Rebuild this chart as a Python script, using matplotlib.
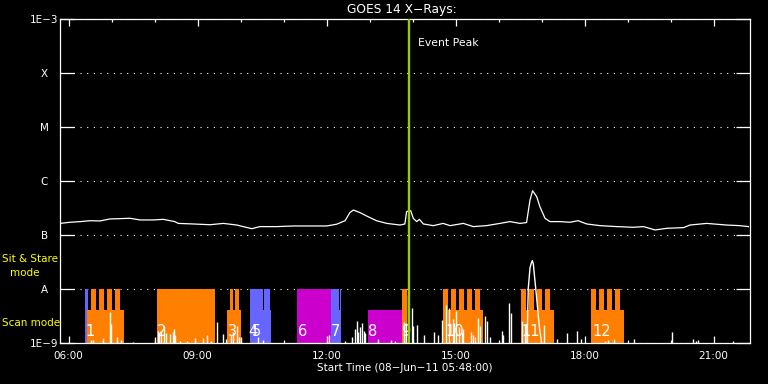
# -*- coding: utf-8 -*-
"""GOES 14 X-Rays, 08-Jun-11: light curve with observing-mode bars."""
import matplotlib
matplotlib.use("Agg")
import matplotlib.pyplot as plt
from matplotlib.ticker import NullLocator

# ---- data (hours after 00:00 on 08-Jun-11) ----
goes_t = [5.80, 6.03, 6.27, 6.50, 6.73, 6.96, 7.20, 7.43, 7.66, 7.97, 8.20, 8.47,
          8.55, 8.90, 9.29, 9.60, 9.91, 10.26, 10.45, 10.84, 11.23, 11.61, 12.00,
          12.23, 12.43, 12.54, 12.62, 12.78, 12.93, 13.16, 13.40, 13.71, 13.82,
          13.86, 13.88, 13.955, 14.017, 14.095, 14.157, 14.25, 14.48, 14.71, 14.87,
          15.18, 15.41, 15.72, 16.03, 16.265, 16.50, 16.65, 16.73, 16.79, 16.885,
          16.96, 17.08, 17.195, 17.43, 17.66, 17.85, 18.05, 18.36, 18.75, 19.13,
          19.37, 19.64, 19.91, 20.30, 20.45, 20.84, 21.30, 21.61, 21.81]
goes_v = [1.64e-7, 1.72e-7, 1.77e-7, 1.84e-7, 1.82e-7, 1.98e-7, 2.01e-7, 2.04e-7,
          1.90e-7, 1.90e-7, 1.95e-7, 1.77e-7, 1.64e-7, 1.60e-7, 1.55e-7, 1.64e-7,
          1.53e-7, 1.31e-7, 1.43e-7, 1.43e-7, 1.47e-7, 1.47e-7, 1.47e-7, 1.58e-7,
          1.84e-7, 2.59e-7, 2.90e-7, 2.59e-7, 2.25e-7, 1.84e-7, 1.64e-7, 1.53e-7,
          1.60e-7, 2.70e-7, 2.75e-7, 2.82e-7, 2.03e-7, 1.77e-7, 1.95e-7, 1.60e-7,
          1.49e-7, 1.64e-7, 1.49e-7, 1.64e-7, 1.43e-7, 1.49e-7, 1.64e-7, 1.77e-7,
          1.64e-7, 1.70e-7, 4.45e-7, 6.62e-7, 5.13e-7, 3.35e-7, 2.03e-7, 1.77e-7,
          1.77e-7, 1.72e-7, 1.84e-7, 1.60e-7, 1.49e-7, 1.43e-7, 1.39e-7, 1.43e-7,
          1.24e-7, 1.33e-7, 1.37e-7, 1.53e-7, 1.64e-7, 1.53e-7, 1.49e-7, 1.43e-7]

# low-level spikes
spike_t = [6.52, 6.56, 6.79, 6.97, 6.99, 7.13, 7.23, 7.50, 8.01, 8.07, 8.10, 8.16,
           8.22, 8.27, 8.36, 8.42, 8.44, 8.47, 8.60, 8.75, 8.93, 9.13, 9.23, 9.30,
           9.46, 9.58, 9.66, 9.78, 9.82, 9.91, 9.96, 10.00, 10.41, 10.53, 12.01,
           12.06, 12.43, 12.60, 12.66, 12.70, 12.74, 12.78, 12.82, 12.86, 12.89,
           13.20, 13.50, 13.58, 13.80, 13.84, 13.885, 13.98, 14.00, 14.11, 14.26,
           14.50, 14.60, 14.68, 14.78, 14.85, 14.93, 14.97, 15.01, 15.09, 15.14,
           15.18, 15.35, 15.40, 15.45, 15.53, 15.57, 15.68, 15.74, 15.80, 16.07,
           16.11, 16.25, 16.29, 16.54, 16.61, 16.65, 17.06, 17.35, 17.60, 17.82,
           17.91, 18.47, 18.55, 18.69, 19.15, 20.04, 20.53, 20.59, 20.64, 21.46]
spike_v = [1.15e-9, 1.15e-9, 1.24e-9, 3.75e-9, 2.25e-9, 1.29e-9, 1.15e-9, 1.04e-9,
           1.29e-9, 1.67e-9, 1.50e-9, 1.70e-9, 2.06e-9, 1.50e-9, 1.47e-9, 1.60e-9,
           1.82e-9, 1.40e-9, 1.10e-9, 1.10e-9, 1.25e-9, 1.24e-9, 1.41e-9, 1.10e-9,
           2.45e-9, 1.47e-9, 1.20e-9, 1.40e-9, 1.60e-9, 2.06e-9, 1.30e-9, 1.30e-9,
           1.29e-9, 1.15e-9, 1.35e-9, 1.40e-9, 1.10e-9, 1.30e-9, 1.80e-9, 2.55e-9,
           1.60e-9, 2.00e-9, 2.30e-9, 1.70e-9, 1.50e-9, 1.20e-9, 1.15e-9, 1.10e-9,
           2.50e-9, 2.30e-9, 7.74e-9, 4.45e-9, 2.06e-9, 2.15e-9, 1.40e-9, 1.60e-9,
           1.40e-9, 2.67e-9, 5.06e-9, 4.45e-9, 2.80e-9, 2.30e-9, 3.91e-9, 2.00e-9,
           1.60e-9, 1.80e-9, 1.60e-9, 1.40e-9, 1.30e-9, 2.90e-9, 2.06e-9, 3.16e-9,
           2.60e-9, 1.30e-9, 1.67e-9, 1.40e-9, 5.51e-9, 3.60e-9, 2.55e-9, 2.20e-9,
           1.80e-9, 2.20e-9, 1.20e-9, 1.50e-9, 1.67e-9, 1.20e-9, 1.10e-9, 1.15e-9,
           1.20e-9, 1.20e-9, 1.60e-9, 1.20e-9, 1.10e-9, 1.15e-9, 1.10e-9]

# low-level flare bump near 16:47
bump_t = [16.66, 16.69, 16.73, 16.76, 16.785, 16.81, 16.82, 16.87, 16.92, 16.96, 17.00]
bump_v = [1.0e-9, 10.4e-9, 24.5e-9, 30.3e-9, 33.5e-9, 28.2e-9, 22.8e-9, 9.0e-9,
          3.35e-9, 1.64e-9, 1.0e-9]

# observing-mode blocks: start, end, top level, colour
ORANGE, BLUE, MAGENTA = "#FF8000", "#6666FF", "#CC00CC"
A_LEV, SCAN_LEV = 1e-8, 4.1e-9
blk_start = [6.381, 6.428, 8.056, 9.684, 10.219, 10.525, 10.552, 10.676, 11.312,
             12.102, 12.288, 12.312, 12.963, 13.753, 14.707, 16.521, 18.149]
blk_end = [6.443, 7.288, 9.405, 10.009, 10.525, 10.552, 10.676, 10.699, 12.102,
           12.288, 12.312, 12.335, 13.753, 13.860, 15.637, 17.281, 18.916]
blk_top = [A_LEV, SCAN_LEV, A_LEV, SCAN_LEV, A_LEV, SCAN_LEV, A_LEV, SCAN_LEV, A_LEV,
           A_LEV, SCAN_LEV, A_LEV, SCAN_LEV, A_LEV, SCAN_LEV, SCAN_LEV, SCAN_LEV]
blk_col = [BLUE, ORANGE, ORANGE, ORANGE, BLUE, BLUE, BLUE, BLUE, MAGENTA,
           BLUE, BLUE, BLUE, MAGENTA, ORANGE, ORANGE, ORANGE, ORANGE]

# raster teeth of the scan-mode blocks
tooth_start = [6.521, 6.707, 6.893, 7.079, 9.753, 9.878, 14.707, 14.893, 15.079,
               15.265, 15.451, 16.521, 16.707, 16.893, 17.079, 18.149, 18.335,
               18.521, 18.707]
tooth_w = [0.108, 0.108, 0.108, 0.108, 0.07, 0.085, 0.108, 0.108, 0.108,
           0.108, 0.108, 0.108, 0.108, 0.108, 0.108, 0.116, 0.116, 0.116, 0.116]

lab_t = [6.50, 8.16, 9.81, 10.29, 10.36, 11.45, 12.195, 13.08, 13.85, 14.99, 16.74, 18.40]
lab_s = ["1", "2", "3", "4", "5", "6", "7", "8", "9", "10", "11", "12"]

peak_t = 13.909
xlim = (5.8, 21.846)
ytk = [1e-9, 1e-8, 1e-7, 1e-6, 1e-5, 1e-4, 1e-3]
ytk_lab = ["1E\u22129", "A", "B", "C", "M", "X", "1E\u22123"]
xtk = [6, 9, 12, 15, 18, 21]
xtk_lab = ["06:00", "09:00", "12:00", "15:00", "18:00", "21:00"]

# ---- figure ----
fig = plt.figure(figsize=(7.68, 3.84), dpi=100)
fig.patch.set_facecolor("black")
ax = fig.add_axes([60/768, 41/384, 690/768, 324/384])
ax.set_facecolor("black")
ax.set_yscale("log")
ax.set_xlim(*xlim)
ax.set_ylim(1e-9, 1e-3)

ax.set_axisbelow(True)
ax.grid(axis="y", color="white", linestyle=(0, (1, 5)), lw=0.8)

ax.bar(blk_start, [t - 1e-9 for t in blk_top],
       width=[e - s for s, e in zip(blk_start, blk_end)], bottom=1e-9,
       align="edge", color=blk_col, lw=0, zorder=1)
ax.bar(tooth_start, A_LEV - 1e-9, width=tooth_w, bottom=1e-9, align="edge",
       color=ORANGE, lw=0, zorder=1)

ax.vlines(spike_t, 1e-9, spike_v, colors="white", lw=1.0, zorder=3)
ax.plot(bump_t, bump_v, color="white", lw=1.0, zorder=3)
ax.plot(goes_t, goes_v, color="white", lw=0.9, zorder=3)

for t, s in zip(lab_t, lab_s):
    ax.text(t, 1.65e-9, s, color="white", fontsize=10.5, ha="center", va="center",
            zorder=4)

ax.axvline(peak_t, color="#9ACD00", lw=1.7, zorder=5)
ax.text(peak_t + 0.22, 3.6e-4, "Event Peak", color="white", fontsize=7.8,
        ha="left", va="center")

# axes styling
for sp in ax.spines.values():
    sp.set_color("white")
    sp.set_linewidth(0.9)
ax.yaxis.set_minor_locator(NullLocator())
ax.set_yticks(ytk)
ax.set_yticklabels(ytk_lab)
ax.tick_params(axis="y", which="major", direction="in", length=10, width=0.9,
               left=True, right=True, colors="white", labelsize=7.5, pad=11.2)
for lab in ax.get_yticklabels():
    lab.set_ha("center")
ax.set_xticks(xtk)
ax.set_xticklabels(xtk_lab)
ax.set_xticks(range(6, 22), minor=True)
ax.tick_params(axis="x", which="major", direction="in", length=5, width=0.9,
               top=True, bottom=True, colors="white", labelsize=7.5, pad=5.5)
ax.tick_params(axis="x", which="minor", direction="in", length=2.5, width=0.9,
               top=True, bottom=True, colors="white")

fig.text(402/768, 1 - 9.5/384, "GOES 14 X\u2212Rays:", color="white", fontsize=8.8,
         ha="center", va="center")
fig.text(405/768, 1 - 368/384, "Start Time (08\u2212Jun\u221211 05:48:00)", color="white",
         fontsize=7.5, ha="center", va="center")
fig.text(2/768, 1 - 259/384, "Sit & Stare", color="#FFFF00", fontsize=7.5,
         ha="left", va="center")
fig.text(24.4/768, 1 - 273/384, "mode", color="#FFFF00", fontsize=7.5,
         ha="center", va="center")
fig.text(2/768, 1 - 323/384, "Scan mode", color="#FFFF00", fontsize=7.5,
         ha="left", va="center")

fig.savefig("out.png", dpi=100, facecolor="black")
